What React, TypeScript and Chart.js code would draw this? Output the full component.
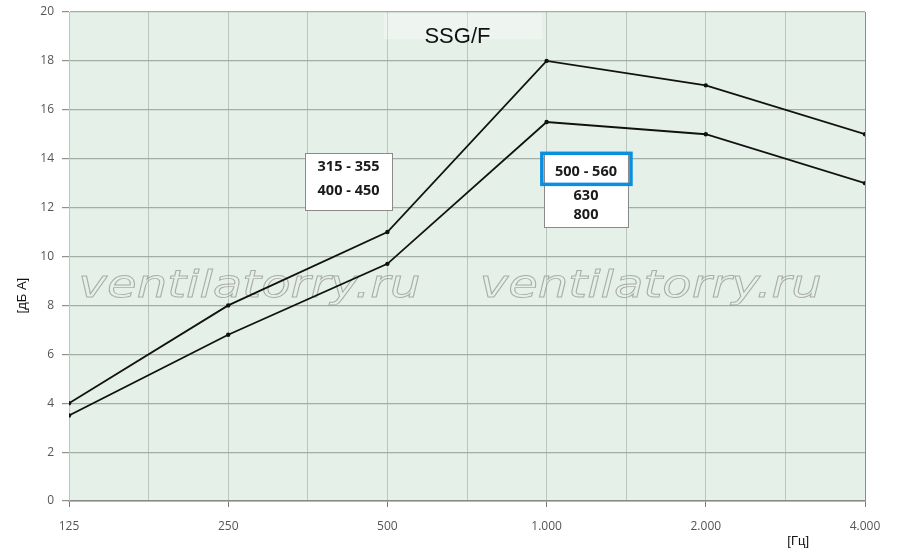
import React, { useEffect, useRef } from "react";
import { Chart, registerables } from "chart.js";

Chart.register(...registerables);

const categories = ["125", "250", "500", "1.000", "2.000", "4.000"];
const upperSeries = [4, 8, 11, 18, 17, 15];
const lowerSeries = [3.5, 6.8, 9.7, 15.5, 15, 13];
const yTicks = [0, 2, 4, 6, 8, 10, 12, 14, 16, 18, 20];
const title = "SSG/F";
const yTitle = "[дБ А]";
const xTitle = "[Гц]";
const box1Lines = ["315 - 355", "400 - 450"];
const box2Lines = ["500 - 560", "630", "800"];
const watermark = "ventilatorry.ru";

const toPoints = (vals: number[]) => vals.map((v, i) => ({ x: i, y: v }));

const overlay = {
  id: "overlay",
  beforeDatasetsDraw(chart: any) {
    const { ctx } = chart;
    const xs = chart.scales.x;
    const ys = chart.scales.y;
    ctx.save();
    // light patch behind title
    ctx.fillStyle = "rgba(255,255,255,0.35)";
    ctx.fillRect(xs.getPixelForValue(1.98), ys.getPixelForValue(19.95), 158, 26);
    // watermarks
    ctx.font = "italic 38px 'DejaVu Sans'";
    ctx.strokeStyle = "rgba(150,150,150,0.75)";
    ctx.lineWidth = 0.9;
    ctx.textBaseline = "alphabetic";
    ctx.textAlign = "left";
    const drawWm = (x0: number) => {
      const w = ctx.measureText(watermark).width;
      const sx = 342 / w;
      ctx.save();
      ctx.translate(x0, ys.getPixelForValue(8.35));
      ctx.scale(sx, 1);
      ctx.strokeText(watermark, 0, 0);
      ctx.restore();
    };
    drawWm(xs.getPixelForValue(0.06));
    drawWm(xs.getPixelForValue(2.58));
    // title
    ctx.fillStyle = "#111";
    ctx.font = "22px 'Liberation Sans', Arial, sans-serif";
    ctx.textAlign = "center";
    ctx.textBaseline = "middle";
    ctx.fillText(title, xs.getPixelForValue(2.44), ys.getPixelForValue(19.0));
    ctx.restore();
  },
  afterDatasetsDraw(chart: any) {
    const { ctx } = chart;
    const xs = chart.scales.x;
    const ys = chart.scales.y;
    ctx.save();
    const drawBox = (x0: number, x1: number, y0: number, y1: number, lines: string[], lineYs: number[]) => {
      const l = xs.getPixelForValue(x0);
      const r = xs.getPixelForValue(x1);
      const t = ys.getPixelForValue(y0);
      const b = ys.getPixelForValue(y1);
      ctx.fillStyle = "#ffffff";
      ctx.fillRect(l, t, r - l, b - t);
      ctx.strokeStyle = "#8a8a8a";
      ctx.lineWidth = 1;
      ctx.strokeRect(Math.round(l) + 0.5, Math.round(t) + 0.5, Math.round(r - l), Math.round(b - t));
      ctx.fillStyle = "#1a1a1a";
      ctx.font = "bold 14.5px 'Open Sans', sans-serif";
      ctx.textAlign = "center";
      ctx.textBaseline = "middle";
      const cx = (l + r) / 2;
      lines.forEach((s, i) => ctx.fillText(s, cx, ys.getPixelForValue(lineYs[i])));
    };
    drawBox(1.482, 2.03, 14.23, 11.9, box1Lines, [13.65, 12.7]);
    drawBox(2.985, 3.51, 14.2, 11.2, box2Lines, [13.45, 12.5, 11.7]);
    // blue highlight
    const bl = xs.getPixelForValue(2.97);
    const br = xs.getPixelForValue(3.53);
    const bt = ys.getPixelForValue(14.22);
    const bb = ys.getPixelForValue(12.95);
    ctx.strokeStyle = "#0a8fe0";
    ctx.lineWidth = 3.5;
    ctx.strokeRect(bl, bt, br - bl, bb - bt);
    // axis titles
    ctx.fillStyle = "#111";
    ctx.font = "13px 'Liberation Sans', Arial, sans-serif";
    ctx.textAlign = "center";
    ctx.textBaseline = "middle";
    ctx.fillText(xTitle, xs.getPixelForValue(4.58), 541);
    ctx.save();
    ctx.translate(22, ys.getPixelForValue(8.4));
    ctx.rotate(-Math.PI / 2);
    ctx.fillText(yTitle, 0, 0);
    ctx.restore();
    ctx.restore();
  },
};

const bgPlugin = {
  id: "plotBg",
  beforeDraw(chart: any) {
    const { ctx, chartArea } = chart;
    ctx.save();
    ctx.fillStyle = "#ffffff";
    ctx.fillRect(0, 0, chart.width, chart.height);
    ctx.fillStyle = "#e5f0e8";
    ctx.fillRect(chartArea.left, chartArea.top, chartArea.right - chartArea.left, chartArea.bottom - chartArea.top);
    ctx.restore();
  },
};

export default function App() {
  const ref = useRef<HTMLCanvasElement>(null);
  useEffect(() => {
    document.body.style.margin = "0";
    const chart = new Chart(ref.current!, {
      type: "line",
      data: {
        datasets: [
          {
            data: toPoints(upperSeries),
            borderColor: "#111",
            backgroundColor: "#111",
            borderWidth: 1.8,
            pointRadius: 2.2,
            pointBorderWidth: 0,
            tension: 0,
          },
          {
            data: toPoints(lowerSeries),
            borderColor: "#111",
            backgroundColor: "#111",
            borderWidth: 1.8,
            pointRadius: 2.2,
            pointBorderWidth: 0,
            tension: 0,
          },
        ],
      },
      options: {
        animation: false,
        responsive: false,
        devicePixelRatio: 1,
        layout: { padding: { top: 12, right: 35, left: 0, bottom: 0 } },
        plugins: { legend: { display: false }, tooltip: { enabled: false } },
        scales: {
          x: {
            type: "linear",
            min: 0,
            max: categories.length - 1,
            afterFit: (s: any) => {
              s.height = 59;
              s.paddingLeft = 0;
              s.paddingRight = 0;
            },
            afterBuildTicks: (s: any) => {
              const t = [];
              for (let v = 0; v <= categories.length - 1 + 1e-9; v += 0.5) t.push({ value: v });
              s.ticks = t;
            },
            ticks: {
              autoSkip: false,
              maxRotation: 0,
              color: "#555",
              font: { size: 12, family: "'Open Sans', sans-serif" },
              padding: 12,
              callback: (v: any) => (Number.isInteger(v) ? categories[v] : ""),
            },
            grid: {
              color: (c: any) => (c.tick && c.tick.value === categories.length - 1 ? "#8c8c8c" : "#bcc6be"),
              lineWidth: 1,
              tickLength: 6,
              tickColor: (c: any) => (c.tick && Number.isInteger(c.tick.value) ? "#777" : "rgba(0,0,0,0)"),
            },
            border: { display: true, color: "#888", width: 1.5 },
          },
          y: {
            min: 0,
            max: 20,
            afterFit: (s: any) => {
              s.width = 69;
              s.paddingTop = 0;
              s.paddingBottom = 0;
            },
            afterBuildTicks: (s: any) => {
              s.ticks = yTicks.map((v) => ({ value: v }));
            },
            ticks: {
              color: "#555",
              font: { size: 12, family: "'Open Sans', sans-serif" },
              padding: 8,
            },
            grid: {
              color: "#a3aea5",
              lineWidth: 1.2,
              tickLength: 7,
              tickColor: "#8a948c",
            },
            border: { display: true, color: "#bcc6be", width: 1 },
          },
        },
      },
      plugins: [bgPlugin, overlay],
    } as any);
    return () => chart.destroy();
  }, []);
  return <canvas ref={ref} width={900} height={560} style={{ display: "block" }} />;
}
